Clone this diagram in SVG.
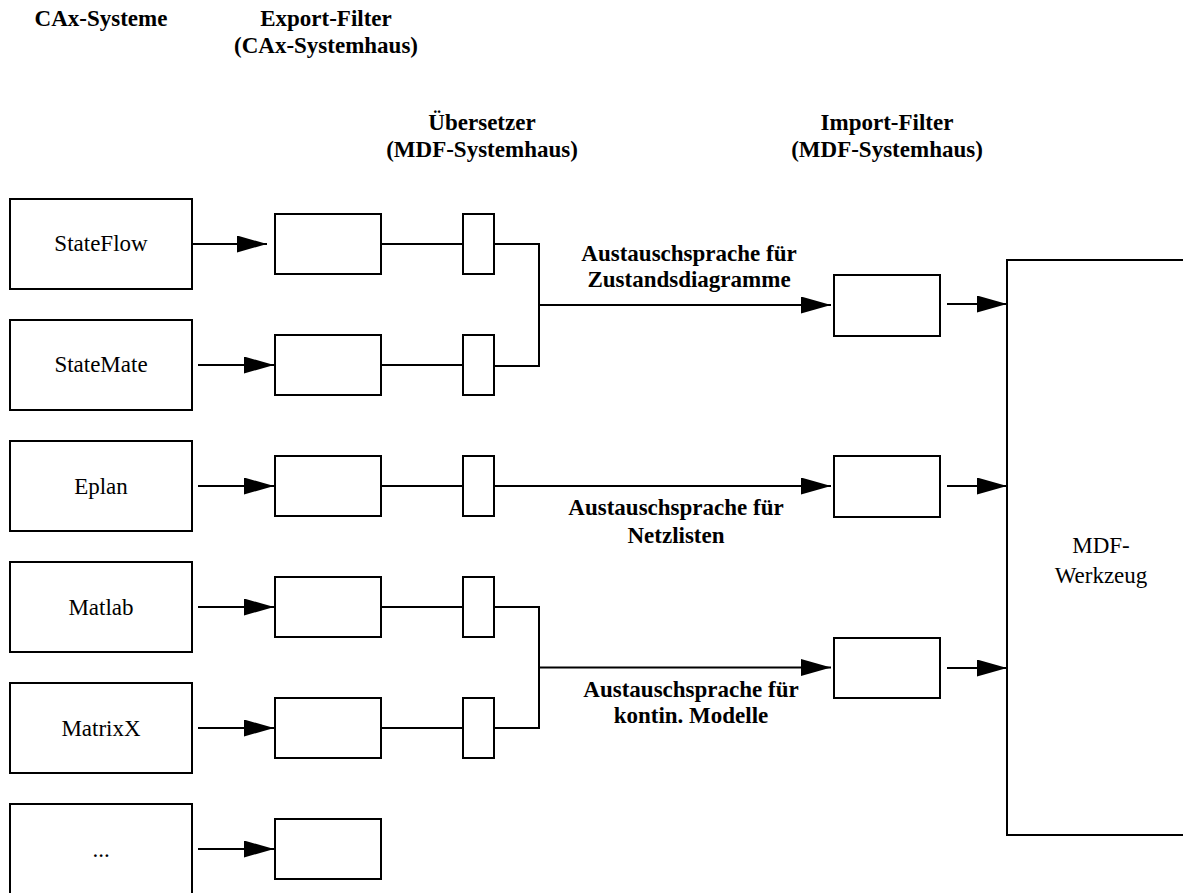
<svg xmlns="http://www.w3.org/2000/svg" width="1183" height="893" viewBox="0 0 1183 893" font-family="'Liberation Serif', Tinos, 'Times New Roman', Times, 'DejaVu Serif', serif">
  <style>
    .box { fill: #fff; stroke: #000; stroke-width: 2; }
    .ln { fill: none; stroke: #000; stroke-width: 2; }
    .arr { fill: none; stroke: #000; stroke-width: 2; marker-end: url(#head); }
    text { font-family: 'Liberation Serif', Tinos, 'Times New Roman', Times, 'DejaVu Serif', serif; font-size: 23px; fill: #000; text-anchor: middle; }
    .hd { font-weight: bold; }
  </style>
  <defs>
    <marker id="head" markerUnits="userSpaceOnUse" markerWidth="30" markerHeight="17" refX="30" refY="8.5" orient="auto">
      <path d="M0,0 L30,8.5 L0,17 z" fill="#000"/>
    </marker>
  </defs>
  <rect width="1183" height="893" fill="#fff"/>

  <!-- column headings -->
  <g id="headings">
    <text class="hd" x="101" y="26">CAx-Systeme</text>
    <text class="hd" x="326" y="26">Export-Filter</text>
    <text class="hd" x="326" y="53">(CAx-Systemhaus)</text>
    <text class="hd" x="482" y="130">Übersetzer</text>
    <text class="hd" x="482" y="157">(MDF-Systemhaus)</text>
    <text class="hd" x="887" y="130">Import-Filter</text>
    <text class="hd" x="887" y="157">(MDF-Systemhaus)</text>
  </g>

  <!-- connectors -->
  <g id="connectors">
    <!-- CAx system to export filter -->
    <line class="arr" x1="192" y1="244" x2="267" y2="244"/>
    <line class="arr" x1="198" y1="365" x2="274" y2="365"/>
    <line class="arr" x1="198" y1="486" x2="274" y2="486"/>
    <line class="arr" x1="198" y1="607" x2="274" y2="607"/>
    <line class="arr" x1="198" y1="728" x2="274" y2="728"/>
    <line class="arr" x1="198" y1="849" x2="274" y2="849"/>
    <!-- export filter to translator -->
    <line class="ln" x1="381" y1="244" x2="463" y2="244"/>
    <line class="ln" x1="381" y1="365" x2="463" y2="365"/>
    <line class="ln" x1="381" y1="486" x2="463" y2="486"/>
    <line class="ln" x1="381" y1="607" x2="463" y2="607"/>
    <line class="ln" x1="381" y1="728" x2="463" y2="728"/>
    <!-- translators merged onto exchange languages -->
    <polyline class="ln" points="494,244 539,244 539,366 494,366"/>
    <line class="arr" x1="539" y1="305" x2="831" y2="305"/>
    <line class="arr" x1="494" y1="486" x2="831" y2="486"/>
    <polyline class="ln" points="494,607 539,607 539,728 494,728"/>
    <line class="arr" x1="539" y1="667.5" x2="831" y2="667.5"/>
    <!-- import filter to MDF tool -->
    <line class="arr" x1="947" y1="304" x2="1007" y2="304"/>
    <line class="arr" x1="947" y1="486" x2="1007" y2="486"/>
    <line class="arr" x1="947" y1="668" x2="1007" y2="668"/>
    <!-- exchange language labels -->
    <text class="hd" x="689" y="261">Austauschsprache für</text>
    <text class="hd" x="689" y="287">Zustandsdiagramme</text>
    <text class="hd" x="676" y="515">Austauschsprache für</text>
    <text class="hd" x="676" y="543">Netzlisten</text>
    <text class="hd" x="691" y="697">Austauschsprache für</text>
    <text class="hd" x="691" y="723">kontin. Modelle</text>
  </g>

  <!-- CAx systems -->
  <g id="stateflow"><rect class="box" x="10" y="199" width="182" height="90"/><text x="101" y="251">StateFlow</text></g>
  <g id="statemate"><rect class="box" x="10" y="320" width="182" height="90"/><text x="101" y="372">StateMate</text></g>
  <g id="eplan"><rect class="box" x="10" y="441" width="182" height="90"/><text x="101" y="494">Eplan</text></g>
  <g id="matlab"><rect class="box" x="10" y="562" width="182" height="90"/><text x="101" y="615">Matlab</text></g>
  <g id="matrixx"><rect class="box" x="10" y="683" width="182" height="90"/><text x="101" y="736">MatrixX</text></g>
  <g id="more"><rect class="box" x="10" y="804" width="182" height="100"/><text x="101" y="857">...</text></g>

  <!-- export filters -->
  <g id="export1"><rect class="box" x="275" y="214" width="106" height="60"/></g>
  <g id="export2"><rect class="box" x="275" y="335" width="106" height="60"/></g>
  <g id="export3"><rect class="box" x="275" y="456" width="106" height="60"/></g>
  <g id="export4"><rect class="box" x="275" y="577" width="106" height="60"/></g>
  <g id="export5"><rect class="box" x="275" y="698" width="106" height="60"/></g>
  <g id="export6"><rect class="box" x="275" y="819" width="106" height="60"/></g>

  <!-- translators -->
  <g id="trans1"><rect class="box" x="463" y="214" width="31" height="60"/></g>
  <g id="trans2"><rect class="box" x="463" y="335" width="31" height="60"/></g>
  <g id="trans3"><rect class="box" x="463" y="456" width="31" height="60"/></g>
  <g id="trans4"><rect class="box" x="463" y="577" width="31" height="60"/></g>
  <g id="trans5"><rect class="box" x="463" y="698" width="31" height="60"/></g>

  <!-- import filters -->
  <g id="import1"><rect class="box" x="834" y="275" width="106" height="61"/></g>
  <g id="import2"><rect class="box" x="834" y="456" width="106" height="61"/></g>
  <g id="import3"><rect class="box" x="834" y="638" width="106" height="60"/></g>

  <!-- MDF tool -->
  <g id="mdf-tool">
    <rect class="box" x="1007" y="260" width="190" height="575"/>
    <text x="1101" y="553">MDF-</text>
    <text x="1101" y="583">Werkzeug</text>
  </g>
</svg>
